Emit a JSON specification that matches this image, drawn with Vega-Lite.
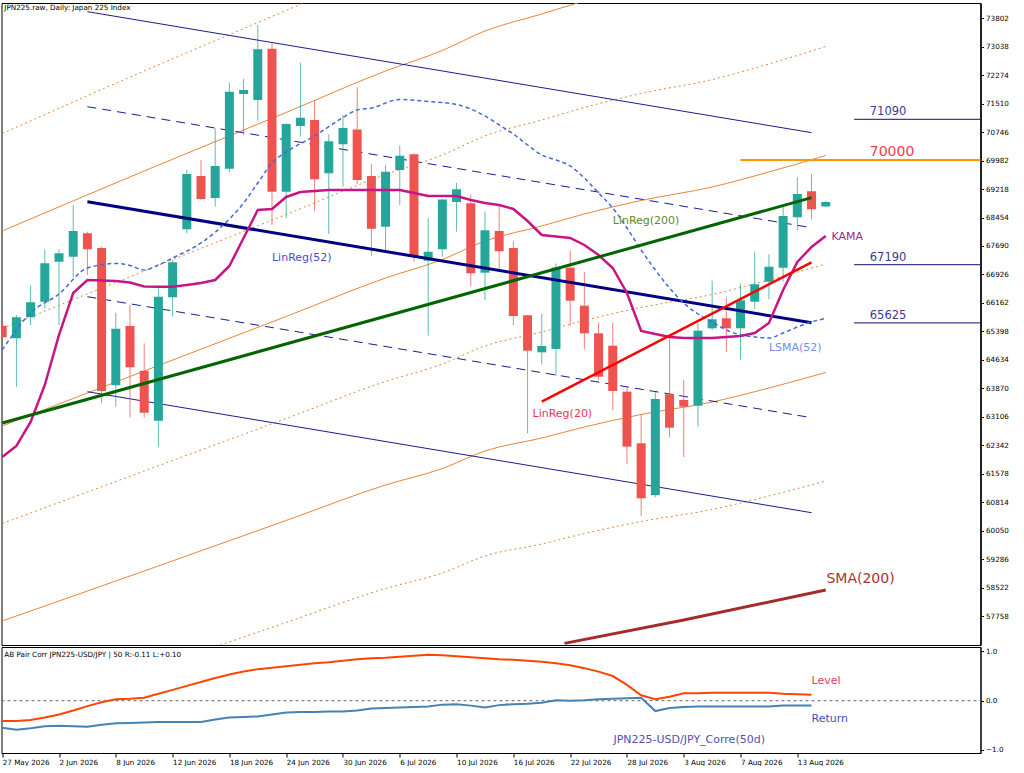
{
"$schema": "https://vega.github.io/schema/vega-lite/v6.json",
"background": "white",
"padding": {"left": -2.5, "top": 2, "right": 0, "bottom": 0},
"spacing": 0,
"config": {"view": {"stroke": "#000", "strokeWidth": 1}, "font": "DejaVu Sans",
 "axis": {"labelFontSize": 7.2, "labelColor": "#000", "tickColor": "#000", "domainColor": "#000", "grid": false, "title": null, "labelFont": "DejaVu Sans", "labelOverlap": false}},
"datasets": {
"ohlc": [
{"i":0,"d":"2026-05-27","o":65551,"h":65651,"l":65167,"c":65240},
{"i":1,"d":"2026-05-28","o":65213,"h":65838,"l":63906,"c":65777},
{"i":2,"d":"2026-05-29","o":65777,"h":66636,"l":65570,"c":66179},
{"i":3,"d":"2026-06-01","o":66195,"h":67602,"l":66018,"c":67226},
{"i":4,"d":"2026-06-02","o":67269,"h":67602,"l":65570,"c":67494},
{"i":5,"d":"2026-06-03","o":67403,"h":68791,"l":66850,"c":68093},
{"i":6,"d":"2026-06-04","o":68031,"h":68074,"l":66912,"c":67602},
{"i":7,"d":"2026-06-05","o":67637,"h":67672,"l":63485,"c":63799},
{"i":8,"d":"2026-06-08","o":63951,"h":65900,"l":63377,"c":65471},
{"i":9,"d":"2026-06-09","o":65543,"h":66107,"l":63093,"c":64435},
{"i":10,"d":"2026-06-10","o":64343,"h":65079,"l":63093,"c":63216},
{"i":11,"d":"2026-06-11","o":63001,"h":66555,"l":62304,"c":66330},
{"i":12,"d":"2026-06-12","o":66313,"h":67315,"l":65793,"c":67253},
{"i":13,"d":"2026-06-15","o":68139,"h":69730,"l":68031,"c":69623},
{"i":14,"d":"2026-06-16","o":69569,"h":69999,"l":68925,"c":68952},
{"i":15,"d":"2026-06-17","o":68979,"h":70849,"l":68745,"c":69838},
{"i":16,"d":"2026-06-18","o":69765,"h":72073,"l":69658,"c":71832},
{"i":17,"d":"2026-06-19","o":71770,"h":72173,"l":70670,"c":71877},
{"i":18,"d":"2026-06-22","o":71609,"h":73622,"l":71053,"c":72970},
{"i":19,"d":"2026-06-23","o":72986,"h":73131,"l":68254,"c":69148},
{"i":20,"d":"2026-06-24","o":69148,"h":70990,"l":68434,"c":70965},
{"i":21,"d":"2026-06-25","o":70911,"h":72610,"l":70624,"c":71134},
{"i":22,"d":"2026-06-26","o":71072,"h":71609,"l":68630,"c":69481},
{"i":23,"d":"2026-06-29","o":69642,"h":70688,"l":68012,"c":70501},
{"i":24,"d":"2026-06-30","o":70420,"h":71206,"l":69282,"c":70857},
{"i":25,"d":"2026-07-01","o":70817,"h":71950,"l":69354,"c":69462},
{"i":26,"d":"2026-07-02","o":69569,"h":69891,"l":67430,"c":68155},
{"i":27,"d":"2026-07-03","o":68208,"h":69864,"l":67583,"c":69685},
{"i":28,"d":"2026-07-06","o":69730,"h":70382,"l":68791,"c":70114},
{"i":29,"d":"2026-07-07","o":70152,"h":70178,"l":67269,"c":67403},
{"i":30,"d":"2026-07-08","o":67296,"h":68434,"l":65283,"c":67537},
{"i":31,"d":"2026-07-09","o":67602,"h":68950,"l":67403,"c":68938},
{"i":32,"d":"2026-07-10","o":68871,"h":69381,"l":68074,"c":69212},
{"i":33,"d":"2026-07-13","o":68836,"h":69073,"l":66617,"c":66958},
{"i":34,"d":"2026-07-14","o":66974,"h":68616,"l":66241,"c":68112},
{"i":35,"d":"2026-07-15","o":68093,"h":68810,"l":67001,"c":67548},
{"i":36,"d":"2026-07-16","o":67637,"h":67811,"l":65570,"c":65812},
{"i":37,"d":"2026-07-17","o":65830,"h":65838,"l":62663,"c":64880},
{"i":38,"d":"2026-07-20","o":64837,"h":65865,"l":64510,"c":65006},
{"i":39,"d":"2026-07-21","o":64926,"h":67221,"l":64201,"c":67113},
{"i":40,"d":"2026-07-22","o":67108,"h":67564,"l":65551,"c":66222},
{"i":41,"d":"2026-07-23","o":66088,"h":66984,"l":64918,"c":65347},
{"i":42,"d":"2026-07-24","o":65347,"h":65632,"l":64094,"c":64182},
{"i":43,"d":"2026-07-27","o":65014,"h":65632,"l":63289,"c":63799},
{"i":44,"d":"2026-07-28","o":63780,"h":63914,"l":61839,"c":62304},
{"i":45,"d":"2026-07-29","o":62395,"h":63181,"l":60444,"c":60919},
{"i":46,"d":"2026-07-30","o":61007,"h":63764,"l":60946,"c":63584},
{"i":47,"d":"2026-07-31","o":63710,"h":65302,"l":62556,"c":62814},
{"i":48,"d":"2026-08-03","o":63557,"h":64094,"l":62027,"c":63377},
{"i":49,"d":"2026-08-04","o":63404,"h":65616,"l":62840,"c":65417},
{"i":50,"d":"2026-08-05","o":65481,"h":66759,"l":65436,"c":65723},
{"i":51,"d":"2026-08-06","o":65750,"h":66308,"l":64853,"c":65481},
{"i":52,"d":"2026-08-07","o":65481,"h":66678,"l":64631,"c":66233},
{"i":53,"d":"2026-08-10","o":66195,"h":67537,"l":66008,"c":66662},
{"i":54,"d":"2026-08-11","o":66732,"h":67470,"l":66260,"c":67135},
{"i":55,"d":"2026-08-12","o":67108,"h":68764,"l":66732,"c":68496},
{"i":56,"d":"2026-08-13","o":68461,"h":69534,"l":68120,"c":69086},
{"i":57,"d":"2026-08-14","o":69159,"h":69615,"l":68407,"c":68675},
{"i":58,"d":"2026-08-17","o":68751,"h":68898,"l":68751,"c":68871}
],
"bandSolid": [
{"s":"u2","i":0,"v":68093},{"s":"u2","i":10,"v":69703},{"s":"u2","i":20,"v":71274},{"s":"u2","i":27,"v":72387},{"s":"u2","i":31,"v":72938},{"s":"u2","i":34,"v":73461},{"s":"u2","i":38,"v":73917},{"s":"u2","i":41,"v":74266},{"s":"u2","i":45,"v":74655},{"s":"u2","i":50,"v":75045},{"s":"u2","i":54,"v":75474},{"s":"u2","i":58,"v":75957},
{"s":"c","i":0,"v":62859},{"s":"c","i":10,"v":64335},{"s":"c","i":20,"v":65798},{"s":"c","i":27,"v":66831},{"s":"c","i":31,"v":67328},{"s":"c","i":34,"v":67825},{"s":"c","i":38,"v":68227},{"s":"c","i":41,"v":68549},{"s":"c","i":45,"v":68912},{"s":"c","i":50,"v":69274},{"s":"c","i":54,"v":69677},{"s":"c","i":58,"v":70119},
{"s":"d2","i":0,"v":57625},{"s":"d2","i":10,"v":58967},{"s":"d2","i":20,"v":60323},{"s":"d2","i":27,"v":61276},{"s":"d2","i":31,"v":61718},{"s":"d2","i":34,"v":62188},{"s":"d2","i":38,"v":62537},{"s":"d2","i":41,"v":62832},{"s":"d2","i":45,"v":63168},{"s":"d2","i":50,"v":63503},{"s":"d2","i":54,"v":63879},{"s":"d2","i":58,"v":64295}
],
"bandDot": [
{"s":"u3","i":0,"v":70710},{"s":"u3","i":10,"v":72387},{"s":"u3","i":20,"v":74011},{"s":"u3","i":27,"v":75165},{"s":"u3","i":31,"v":75742},
{"s":"u1","i":0,"v":65476},{"s":"u1","i":10,"v":67019},{"s":"u1","i":20,"v":68536},{"s":"u1","i":27,"v":69609},{"s":"u1","i":31,"v":70133},{"s":"u1","i":34,"v":70643},{"s":"u1","i":38,"v":71072},{"s":"u1","i":41,"v":71408},{"s":"u1","i":45,"v":71783},{"s":"u1","i":50,"v":72159},{"s":"u1","i":54,"v":72575},{"s":"u1","i":58,"v":73045},
{"s":"d1","i":0,"v":60242},{"s":"d1","i":10,"v":61651},{"s":"d1","i":20,"v":63060},{"s":"d1","i":27,"v":64053},{"s":"d1","i":31,"v":64523},{"s":"d1","i":34,"v":65006},{"s":"d1","i":38,"v":65382},{"s":"d1","i":41,"v":65691},{"s":"d1","i":45,"v":66040},{"s":"d1","i":50,"v":66389},{"s":"d1","i":54,"v":66778},{"s":"d1","i":58,"v":67207},
{"s":"d3","i":10,"v":56283},{"s":"d3","i":20,"v":57585},{"s":"d3","i":27,"v":58498},{"s":"d3","i":31,"v":58914},{"s":"d3","i":34,"v":59370},{"s":"d3","i":38,"v":59692},{"s":"d3","i":41,"v":59974},{"s":"d3","i":45,"v":60296},{"s":"d3","i":50,"v":60618},{"s":"d3","i":54,"v":60980},{"s":"d3","i":58,"v":61383}
],
"lr52c": [{"i":6,"v":68879},{"i":57,"v":65632}],
"lr52d": [{"k":1,"i":6,"v":71429},{"k":1,"i":57,"v":68182},{"k":-1,"i":6,"v":66329},{"k":-1,"i":57,"v":63082}],
"lr52s": [{"k":2,"i":6,"v":73979},{"k":2,"i":57,"v":70732},{"k":-2,"i":6,"v":63779},{"k":-2,"i":57,"v":60532}],
"lr200": [{"i":0,"v":62940},{"i":57,"v":68987}],
"lr20": [{"i":38,"v":63511},{"i":57,"v":67253}],
"sma200": [{"i":39.6,"v":57024},{"i":48,"v":57652},{"i":58,"v":58457}],
"lsma": [
{"i":0,"v":64899},{"i":2,"v":65892},{"i":4,"v":66402},{"i":6,"v":67100},{"i":8,"v":67221},{"i":9,"v":67167},{"i":10,"v":67046},{"i":11,"v":67180},{"i":12,"v":67368},{"i":14,"v":67771},{"i":16,"v":68415},{"i":17,"v":68844},{"i":18,"v":69381},{"i":19,"v":69918},{"i":20,"v":70213},{"i":22,"v":70643},{"i":24,"v":71139},{"i":25,"v":71341},{"i":26,"v":71394},{"i":28,"v":71622},{"i":30,"v":71569},{"i":32,"v":71488},{"i":34,"v":71180},{"i":35,"v":70938},{"i":36,"v":70696},{"i":37,"v":70401},{"i":38,"v":70133},{"i":39,"v":69999},{"i":40,"v":69838},{"i":41,"v":69515},{"i":42,"v":69113},{"i":43,"v":68710},{"i":44,"v":68173},{"i":45,"v":67583},{"i":46,"v":67046},{"i":47,"v":66563},{"i":48,"v":66160},{"i":49,"v":65865},{"i":50,"v":65651},{"i":51,"v":65436},{"i":52,"v":65302},{"i":53,"v":65248},{"i":54,"v":65221},{"i":55,"v":65355},{"i":56,"v":65516},{"i":57,"v":65651},{"i":58,"v":65750}
],
"kama": [
{"i":0,"v":62027},{"i":1,"v":62322},{"i":2,"v":62967},{"i":3,"v":63960},{"i":4,"v":65302},{"i":5,"v":66429},{"i":6,"v":66778},{"i":7,"v":66764},{"i":8,"v":66751},{"i":9,"v":66711},{"i":10,"v":66603},{"i":11,"v":66598},{"i":12,"v":66598},{"i":13,"v":66644},{"i":14,"v":66697},{"i":15,"v":66778},{"i":16,"v":67154},{"i":17,"v":67905},{"i":18,"v":68657},{"i":19,"v":68683},{"i":20,"v":69006},{"i":21,"v":69140},{"i":22,"v":69167},{"i":23,"v":69193},{"i":28,"v":69193},{"i":29,"v":69113},{"i":30,"v":69032},{"i":32,"v":69032},{"i":33,"v":68925},{"i":34,"v":68844},{"i":35,"v":68791},{"i":36,"v":68683},{"i":37,"v":68361},{"i":38,"v":67986},{"i":39,"v":67945},{"i":40,"v":67905},{"i":41,"v":67717},{"i":42,"v":67449},{"i":43,"v":67100},{"i":44,"v":66429},{"i":45,"v":65409},{"i":46,"v":65328},{"i":47,"v":65248},{"i":48,"v":65221},{"i":50,"v":65221},{"i":52,"v":65275},{"i":53,"v":65355},{"i":54,"v":65624},{"i":55,"v":66509},{"i":56,"v":67261},{"i":57,"v":67664},{"i":58,"v":67959}
],
"lev": [
{"i":0,"val":-0.41},{"i":1,"val":-0.41},{"i":2,"val":-0.39},{"i":3,"val":-0.34},{"i":4,"val":-0.28},{"i":5,"val":-0.20},{"i":6,"val":-0.11},{"i":7,"val":-0.03},{"i":8,"val":0.03},{"i":9,"val":0.04},{"i":10,"val":0.06},{"i":11,"val":0.14},{"i":12,"val":0.22},{"i":13,"val":0.30},{"i":14,"val":0.38},{"i":15,"val":0.46},{"i":16,"val":0.53},{"i":17,"val":0.59},{"i":18,"val":0.64},{"i":19,"val":0.67},{"i":20,"val":0.70},{"i":21,"val":0.73},{"i":22,"val":0.76},{"i":23,"val":0.78},{"i":24,"val":0.81},{"i":25,"val":0.84},{"i":26,"val":0.86},{"i":27,"val":0.87},{"i":28,"val":0.89},{"i":29,"val":0.91},{"i":30,"val":0.93},{"i":31,"val":0.92},{"i":32,"val":0.90},{"i":33,"val":0.88},{"i":34,"val":0.86},{"i":35,"val":0.84},{"i":36,"val":0.83},{"i":37,"val":0.81},{"i":38,"val":0.79},{"i":39,"val":0.76},{"i":40,"val":0.72},{"i":41,"val":0.66},{"i":42,"val":0.59},{"i":43,"val":0.50},{"i":44,"val":0.32},{"i":45,"val":0.11},{"i":46,"val":0.03},{"i":47,"val":0.08},{"i":48,"val":0.15},{"i":49,"val":0.15},{"i":50,"val":0.16},{"i":51,"val":0.16},{"i":52,"val":0.16},{"i":53,"val":0.16},{"i":54,"val":0.16},{"i":55,"val":0.14},{"i":56,"val":0.13},{"i":57,"val":0.12}
],
"ret": [
{"i":0,"val":-0.55},{"i":1,"val":-0.59},{"i":2,"val":-0.56},{"i":3,"val":-0.52},{"i":4,"val":-0.51},{"i":5,"val":-0.52},{"i":6,"val":-0.53},{"i":7,"val":-0.49},{"i":8,"val":-0.46},{"i":9,"val":-0.45},{"i":10,"val":-0.44},{"i":11,"val":-0.43},{"i":12,"val":-0.43},{"i":13,"val":-0.43},{"i":14,"val":-0.43},{"i":15,"val":-0.38},{"i":16,"val":-0.34},{"i":17,"val":-0.33},{"i":18,"val":-0.32},{"i":19,"val":-0.28},{"i":20,"val":-0.24},{"i":21,"val":-0.23},{"i":22,"val":-0.23},{"i":23,"val":-0.22},{"i":24,"val":-0.22},{"i":25,"val":-0.20},{"i":26,"val":-0.16},{"i":27,"val":-0.15},{"i":28,"val":-0.14},{"i":29,"val":-0.13},{"i":30,"val":-0.12},{"i":31,"val":-0.08},{"i":32,"val":-0.07},{"i":33,"val":-0.10},{"i":34,"val":-0.14},{"i":35,"val":-0.09},{"i":36,"val":-0.07},{"i":37,"val":-0.06},{"i":38,"val":-0.04},{"i":39,"val":0.01},{"i":40,"val":0.00},{"i":41,"val":0.01},{"i":42,"val":0.03},{"i":43,"val":0.04},{"i":44,"val":0.05},{"i":45,"val":0.06},{"i":46,"val":-0.21},{"i":47,"val":-0.15},{"i":48,"val":-0.13},{"i":49,"val":-0.12},{"i":50,"val":-0.12},{"i":51,"val":-0.12},{"i":52,"val":-0.12},{"i":53,"val":-0.12},{"i":54,"val":-0.12},{"i":55,"val":-0.10},{"i":56,"val":-0.10},{"i":57,"val":-0.10}
],
"zero": [{"i":-0.05,"val":0},{"i":68.9,"val":0}]
},
"vconcat": [
{
"width": 979, "height": 642,
"encoding": {
 "x": {"field": "i", "type": "quantitative", "title": null, "scale": {"domain": [-0.05, 68.9], "nice": false, "zero": false, "padding": 0}, "axis": null},
 "y": {"field": "v", "type": "quantitative", "title": null, "scale": {"domain": [56981, 74212], "nice": false, "zero": false},
   "axis": {"orient": "right", "values": [57758,58522,59286,60050,60814,61578,62342,63106,63870,64634,65398,66162,66926,67690,68454,69218,69982,70746,71510,72274,73038,73802], "format": "d", "tickSize": 3, "labelPadding": 2, "domainWidth": 1.5, "labelOverlap": false}}
},
"layer": [
{"data": {"name": "bandSolid"}, "mark": {"type": "line", "clip": true, "interpolate": "monotone", "color": "#e8843a", "strokeWidth": 1},
 "encoding": {"detail": {"field": "s"}}},
{"data": {"name": "bandDot"}, "mark": {"type": "line", "clip": true, "interpolate": "monotone", "color": "#e8843a", "strokeWidth": 1, "strokeDash": [2, 3]},
 "encoding": {"detail": {"field": "s"}}},
{"data": {"name": "lr52s"}, "mark": {"type": "line", "clip": true, "color": "#1c1c8c", "strokeWidth": 1},
 "encoding": {"detail": {"field": "k"}}},
{"data": {"name": "lr52d"}, "mark": {"type": "line", "clip": true, "color": "#1c1c8c", "strokeWidth": 1, "strokeDash": [9, 6]},
 "encoding": {"detail": {"field": "k"}}},
{"data": {"name": "ohlc"}, "mark": {"type": "rule", "strokeWidth": 1, "opacity": 0.75, "clip": true},
 "encoding": {
  "y": {"field": "l", "type": "quantitative", "title": null, "scale": {"domain": [56981, 74212], "nice": false, "zero": false},
   "axis": {"orient": "right", "values": [57758,58522,59286,60050,60814,61578,62342,63106,63870,64634,65398,66162,66926,67690,68454,69218,69982,70746,71510,72274,73038,73802], "format": "d", "tickSize": 3, "labelPadding": 2, "domainWidth": 1.5, "labelOverlap": false}},
  "y2": {"field": "h"},
  "color": {"condition": {"test": "datum.c >= datum.o", "value": "#26a69a"}, "value": "#ef5350"}}},
{"data": {"name": "ohlc"}, "mark": {"type": "bar", "size": 9, "clip": true},
 "encoding": {
  "y": {"field": "o", "type": "quantitative", "title": null, "scale": {"domain": [56981, 74212], "nice": false, "zero": false},
   "axis": {"orient": "right", "values": [57758,58522,59286,60050,60814,61578,62342,63106,63870,64634,65398,66162,66926,67690,68454,69218,69982,70746,71510,72274,73038,73802], "format": "d", "tickSize": 3, "labelPadding": 2, "domainWidth": 1.5, "labelOverlap": false}},
  "y2": {"field": "c"},
  "color": {"condition": {"test": "datum.c >= datum.o", "value": "#26a69a"}, "value": "#ef5350"}}},
{"data": {"name": "lr52c"}, "mark": {"type": "line", "clip": true, "color": "#000080", "strokeWidth": 3}},
{"data": {"name": "lsma"}, "mark": {"type": "line", "clip": true, "interpolate": "monotone", "color": "#4169e1", "strokeWidth": 1.5, "strokeDash": [4, 3]}},
{"data": {"name": "kama"}, "mark": {"type": "line", "clip": true, "color": "#c71585", "strokeWidth": 2.5}},
{"data": {"name": "lr200"}, "mark": {"type": "line", "clip": true, "color": "#006400", "strokeWidth": 3}},
{"data": {"name": "lr20"}, "mark": {"type": "line", "clip": true, "color": "#ff0000", "strokeWidth": 2.5}},
{"data": {"name": "sma200"}, "mark": {"type": "line", "clip": true, "color": "#a52a2a", "strokeWidth": 3}},
{"data": {"values": [{"v": 71090, "i": 60, "i2": 68.9}, {"v": 67190, "i": 60, "i2": 68.9}, {"v": 65625, "i": 60, "i2": 68.9}]},
 "mark": {"type": "rule", "color": "#3d3d8c", "strokeWidth": 1.2},
 "encoding": {"x2": {"field": "i2"}}},
{"data": {"values": [{"v": 70000, "i": 52, "i2": 68.9}]},
 "mark": {"type": "rule", "color": "#ff9500", "strokeWidth": 2},
 "encoding": {"x2": {"field": "i2"}}},
{"data": {"values": [{"t": "JPN225.raw, Daily:  Japan 225 Index", "i": 0.15, "v": 74078}]},
 "mark": {"type": "text", "align": "left", "baseline": "middle", "fontSize": 7.2, "color": "#000"},
 "encoding": {"text": {"field": "t"}}},
{"data": {"values": [{"t": "LinReg(52)", "i": 19, "v": 67368}]},
 "mark": {"type": "text", "align": "left", "baseline": "middle", "fontSize": 11, "color": "#4b4bd0"},
 "encoding": {"text": {"field": "t"}}},
{"data": {"values": [{"t": "LinReg(200)", "i": 43, "v": 68361}]},
 "mark": {"type": "text", "align": "left", "baseline": "middle", "fontSize": 11, "color": "#5c8a28"},
 "encoding": {"text": {"field": "t"}}},
{"data": {"values": [{"t": "LinReg(20)", "i": 37.35, "v": 63181}]},
 "mark": {"type": "text", "align": "left", "baseline": "middle", "fontSize": 11, "color": "#e8345c"},
 "encoding": {"text": {"field": "t"}}},
{"data": {"values": [{"t": "KAMA", "i": 58.4, "v": 67932}]},
 "mark": {"type": "text", "align": "left", "baseline": "middle", "fontSize": 11, "color": "#a5218c"},
 "encoding": {"text": {"field": "t"}}},
{"data": {"values": [{"t": "LSMA(52)", "i": 54, "v": 64953}]},
 "mark": {"type": "text", "align": "left", "baseline": "middle", "fontSize": 11, "color": "#6f90e6"},
 "encoding": {"text": {"field": "t"}}},
{"data": {"values": [{"t": "SMA(200)", "i": 58.05, "v": 58753}]},
 "mark": {"type": "text", "align": "left", "baseline": "middle", "fontSize": 14, "color": "#a83232"},
 "encoding": {"text": {"field": "t"}}},
{"data": {"values": [{"t": "70000", "i": 61.1, "v": 70213}]},
 "mark": {"type": "text", "align": "left", "baseline": "middle", "fontSize": 14, "color": "#f03c50"},
 "encoding": {"text": {"field": "t"}}},
{"data": {"values": [{"t": "71090", "i": 61.1, "v": 71287}, {"t": "67190", "i": 61.1, "v": 67368}, {"t": "65625", "i": 61.1, "v": 65812}]},
 "mark": {"type": "text", "align": "left", "baseline": "middle", "fontSize": 11.5, "color": "#3b3b8f"},
 "encoding": {"text": {"field": "t"}}}
]
},
{
"width": 979, "height": 106,
"encoding": {
 "x": {"field": "i", "type": "quantitative", "title": null, "scale": {"domain": [-0.05, 68.9], "nice": false, "zero": false, "padding": 0},
   "axis": {"values": [0,4,8,12,16,20,24,28,32,36,40,44,48,52,56], "labelExpr": "datum.value == 0 ? '27 May 2026' : datum.value == 4 ? '2 Jun 2026' : datum.value == 8 ? '8 Jun 2026' : datum.value == 12 ? '12 Jun 2026' : datum.value == 16 ? '18 Jun 2026' : datum.value == 20 ? '24 Jun 2026' : datum.value == 24 ? '30 Jun 2026' : datum.value == 28 ? '6 Jul 2026' : datum.value == 32 ? '10 Jul 2026' : datum.value == 36 ? '16 Jul 2026' : datum.value == 40 ? '22 Jul 2026' : datum.value == 44 ? '28 Jul 2026' : datum.value == 48 ? '3 Aug 2026' : datum.value == 52 ? '7 Aug 2026' : '13 Aug 2026'", "labelAlign": "left", "tickSize": 4, "labelPadding": 1, "domain": false, "labelOverlap": false}},
 "y": {"field": "val", "type": "quantitative", "title": null, "scale": {"domain": [-1.061, 1.089], "nice": false, "zero": false},
   "axis": {"orient": "right", "values": [1, 0, -1], "format": ".1f", "tickSize": 3, "labelPadding": 2, "domainWidth": 1}}
},
"layer": [
{"data": {"name": "zero"}, "mark": {"type": "line", "color": "#666", "strokeWidth": 1, "strokeDash": [3, 3]}},
{"data": {"name": "lev"}, "mark": {"type": "line", "color": "#ff4500", "strokeWidth": 2}},
{"data": {"name": "ret"}, "mark": {"type": "line", "color": "#4682b4", "strokeWidth": 2}},
{"data": {"values": [{"t": "AB Pair Corr JPN225-USD/JPY | 50 R:-0.11 L:+0.10", "i": 0.15, "val": 0.93}]},
 "mark": {"type": "text", "align": "left", "baseline": "middle", "fontSize": 7.2, "color": "#000"},
 "encoding": {"text": {"field": "t"}}},
{"data": {"values": [{"t": "Level", "i": 57, "val": 0.40}]},
 "mark": {"type": "text", "align": "left", "baseline": "middle", "fontSize": 11, "color": "#e83c64"},
 "encoding": {"text": {"field": "t"}}},
{"data": {"values": [{"t": "Return", "i": 57, "val": -0.37}]},
 "mark": {"type": "text", "align": "left", "baseline": "middle", "fontSize": 11, "color": "#3b4fb8"},
 "encoding": {"text": {"field": "t"}}},
{"data": {"values": [{"t": "JPN225-USD/JPY_Corre(50d)", "i": 43.05, "val": -0.80}]},
 "mark": {"type": "text", "align": "left", "baseline": "middle", "fontSize": 11, "color": "#5050b4"},
 "encoding": {"text": {"field": "t"}}}
]
}
]
}
